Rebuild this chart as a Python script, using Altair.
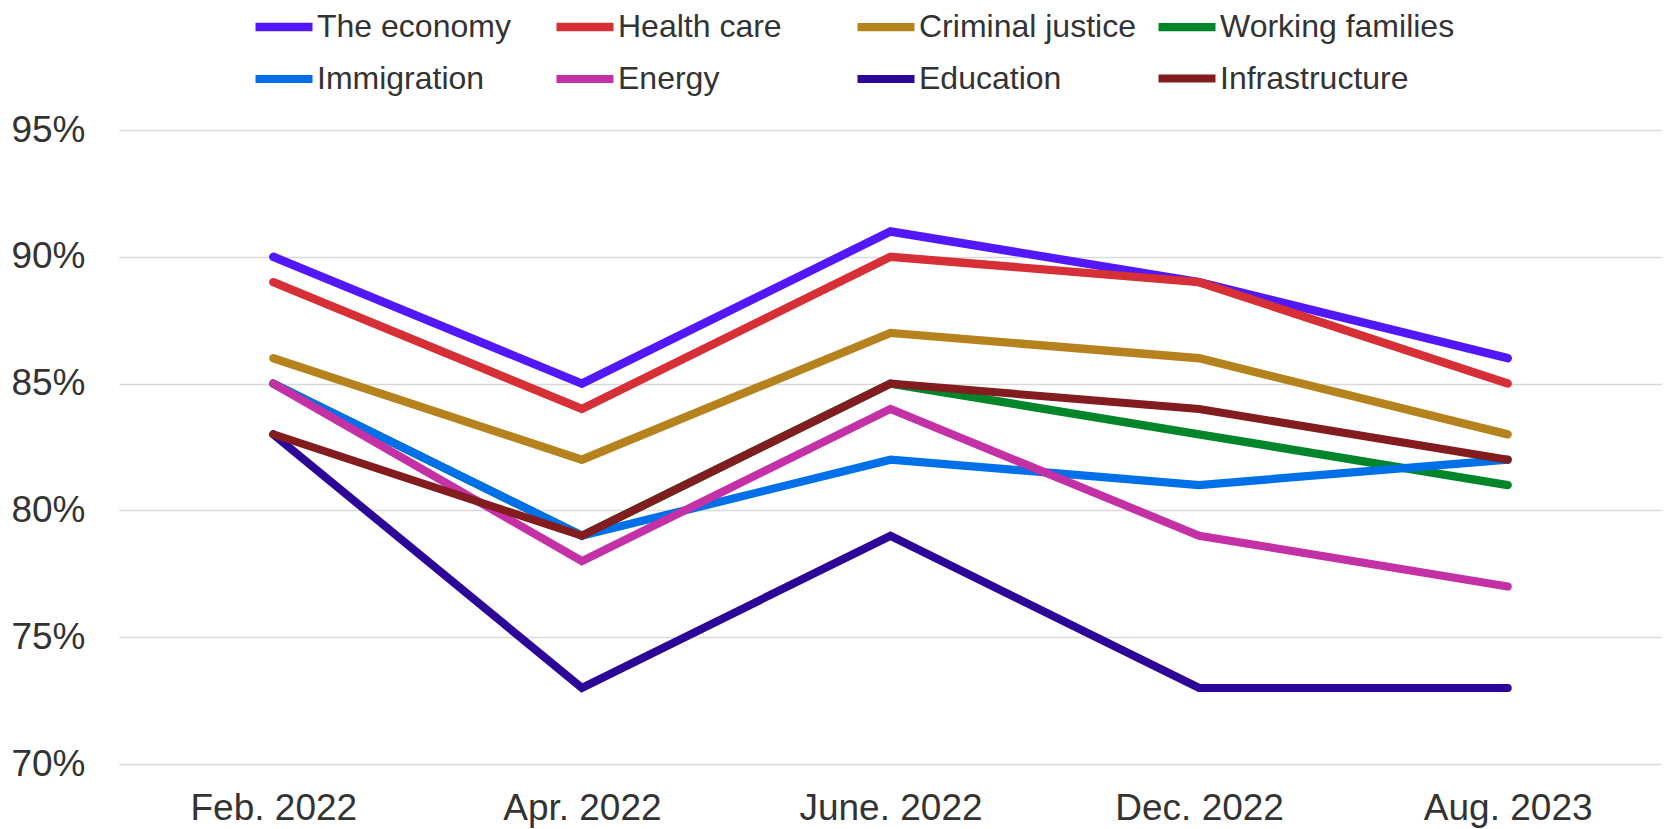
import altair as alt
import pandas as pd

dates = ["Feb. 2022", "Apr. 2022", "June. 2022", "Dec. 2022", "Aug. 2023"]
topics = ["The economy", "Health care", "Criminal justice", "Working families",
          "Immigration", "Energy", "Education", "Infrastructure"]
economy = [90, 85, 91, 89, 86]
health_care = [89, 84, 90, 89, 85]
criminal_justice = [86, 82, 87, 86, 83]
working_families = [85, 79, 85, 83, 81]
immigration = [85, 79, 82, 81, 82]
energy = [85, 78, 84, 79, 77]
education = [83, 73, 79, 73, 73]
infrastructure = [83, 79, 85, 84, 82]
colors = ["#5218FA", "#D63036", "#B5821E", "#00852A", "#0070E8", "#C431A6", "#2C0599", "#821C1F"]
widths = [8.5, 8, 7.5, 7, 7, 5.5, 5, 5]

series = [economy, health_care, criminal_justice, working_families,
          immigration, energy, education, infrastructure]
rows = []
for t, vals in zip(topics, series):
    for d, v in zip(dates, vals):
        rows.append({"Topic": t, "Date": d, "Value": v})
df = pd.DataFrame(rows)

chart = alt.Chart(df).mark_line(strokeCap="round", strokeJoin="miter").encode(
    x=alt.X("Date:O", sort=dates, scale=alt.Scale(type="point", padding=0.5),
            axis=alt.Axis(title=None, labelAngle=0, labelFontSize=37, labelPadding=26,
                          labelColor="#333333", labelFont="Liberation Sans", labelLimit=400,
                          domain=False, ticks=False, grid=False)),
    y=alt.Y("Value:Q", scale=alt.Scale(domain=[70, 95], nice=False, zero=False),
            axis=alt.Axis(title=None, values=[70, 75, 80, 85, 90, 95],
                          labelExpr="datum.value + '%'", labelFontSize=37, labelPadding=34,
                          labelColor="#333333", labelFont="Liberation Sans",
                          domain=False, ticks=False, grid=True, gridColor="#D9D9D9",
                          gridWidth=1.5)),
    color=alt.Color("Topic:N", sort=topics,
                    scale=alt.Scale(domain=topics, range=colors),
                    legend=alt.Legend(title=None, orient="none", legendX=132, legendY=-136,
                                      columns=4, gridAlign="all", symbolType="stroke",
                                      symbolSize=3249, symbolStrokeWidth=8,
                                      labelFontSize=32, labelFont="Liberation Sans",
                                      labelColor="#333333", labelOffset=0, labelLimit=500,
                                      columnPadding=-19, rowPadding=2, direction="horizontal")),
    strokeWidth=alt.StrokeWidth("Topic:N", sort=topics,
                                scale=alt.Scale(domain=topics, range=widths), legend=None),
).properties(
    width=1543, height=634,
    padding={"left": 111, "top": 122, "right": 0, "bottom": 75},
    autosize=alt.AutoSizeParams(type="none"),
).configure_view(stroke=None)

chart.save("out.html", embed_options={"renderer": "svg", "actions": False})
